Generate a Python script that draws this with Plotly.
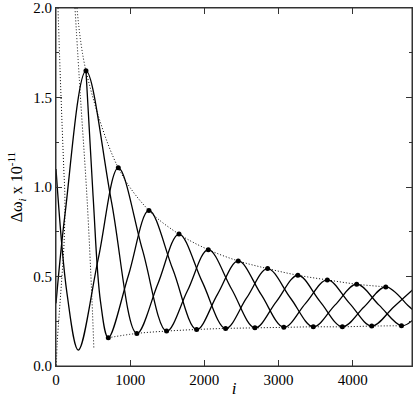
import plotly.graph_objects as go

# three oscillating curves (peaks, valleys and mid points)
curve_x_i = [0, 150, 301, 570, 840, 1165, 1491, 1772, 2053, 2367, 2682, 2971, 3261, 3561, 3861, 4153, 4446, 4753, 4820]
curve_x_v = [1.10, 0.40, 0.089, 0.60, 1.107, 0.65, 0.195, 0.42, 0.650, 0.43, 0.213, 0.36, 0.507, 0.36, 0.219, 0.33, 0.442, 0.335, 0.31]

curve_y_i = [0, 122, 404, 747, 1090, 1374, 1658, 1972, 2287, 2570, 2853, 3161, 3469, 3761, 4054, 4356, 4658, 4820]
curve_y_v = [0.35, 0.85, 1.649, 0.92, 0.182, 0.46, 0.737, 0.47, 0.210, 0.38, 0.544, 0.38, 0.219, 0.34, 0.457, 0.34, 0.225, 0.26]

curve_z_i = [404, 500, 600, 705, 979, 1253, 1575, 1896, 2177, 2457, 2765, 3072, 3365, 3658, 3958, 4257, 4553, 4820]
curve_z_v = [1.649, 0.95, 0.36, 0.158, 0.51, 0.869, 0.54, 0.204, 0.40, 0.587, 0.40, 0.216, 0.35, 0.481, 0.35, 0.223, 0.33, 0.43]

# dots on the maxima and minima
peak_i = [404, 840, 1253, 1658, 2053, 2457, 2853, 3261, 3658, 4054, 4446]
peak_v = [1.649, 1.107, 0.869, 0.737, 0.650, 0.587, 0.544, 0.507, 0.481, 0.457, 0.442]
valley_i = [705, 1090, 1491, 1896, 2287, 2682, 3072, 3469, 3861, 4257, 4658]
valley_v = [0.158, 0.182, 0.195, 0.204, 0.210, 0.213, 0.216, 0.219, 0.219, 0.223, 0.225]

# dotted guide curves
upper_i = [283, 404, 840, 1253, 1658, 2053, 2457, 2853, 3261, 3658, 4054, 4446]
upper_v = [2.0, 1.649, 1.107, 0.869, 0.737, 0.650, 0.587, 0.544, 0.507, 0.481, 0.457, 0.442]
left_i = [27, 55, 80, 105, 120, 110, 80, 45, 15, 5]
left_v = [2.0, 1.65, 1.37, 1.10, 0.94, 0.70, 0.50, 0.30, 0.12, 0.0]
steep_i = [256, 330, 418, 485, 510]
steep_v = [2.0, 1.5, 0.94, 0.37, 0.10]

x_ticks = [0, 1000, 2000, 3000, 4000]
y_ticks = [0, 0.5, 1.0, 1.5, 2.0]
y_labels = ["0.0", "0.5", "1.0", "1.5", "2.0"]

fig = go.Figure()

dotted = dict(color="black", width=1, dash="1px,2px")
solid = dict(color="black", width=1.3, shape="spline", smoothing=1.0)

fig.add_trace(go.Scatter(x=upper_i, y=upper_v, mode="lines", line=dict(dotted, shape="spline")))
fig.add_trace(go.Scatter(x=valley_i, y=valley_v, mode="lines", line=dict(dotted, shape="spline")))
fig.add_trace(go.Scatter(x=left_i, y=left_v, mode="lines", line=dict(dotted, shape="spline")))
fig.add_trace(go.Scatter(x=steep_i, y=steep_v, mode="lines", line=dict(dotted, shape="spline")))

for xs, ys in [(curve_x_i, curve_x_v), (curve_y_i, curve_y_v), (curve_z_i, curve_z_v)]:
    fig.add_trace(go.Scatter(x=xs, y=ys, mode="lines", line=solid))

fig.add_trace(go.Scatter(x=peak_i + valley_i, y=peak_v + valley_v, mode="markers",
                         marker=dict(color="black", size=5)))

axis_common = dict(
    showgrid=False, zeroline=False, showline=True, linecolor="#333", linewidth=1,
    mirror="ticks", ticks="inside", tickcolor="#333", ticklen=6, tickwidth=1,
    automargin=False,
    tickfont=dict(family="Liberation Serif", size=15, color="black"),
)

fig.update_xaxes(axis_common, range=[0, 4800], tickvals=x_ticks,
                 title=dict(text="<i>i</i>", font=dict(family="Liberation Serif", size=17, color="black"), standoff=0))
fig.update_yaxes(axis_common, range=[0, 2.0], tickvals=y_ticks, ticktext=y_labels,
                 minor=dict(tickvals=[0.25, 0.75, 1.25, 1.75], ticks="inside", ticklen=3, tickcolor="#333"),
                 title=dict(text="Δω<sub><i>i</i></sub> x 10<sup>-11</sup>",
                            font=dict(family="Liberation Serif", size=16, color="black"), standoff=6))

# frame round the plot area
fig.add_shape(type="rect", xref="paper", yref="paper", x0=0, y0=0, x1=1, y1=1,
              line=dict(color="#333", width=1), layer="above")

fig.update_layout(
    template="none",
    width=415, height=398, showlegend=False,
    margin=dict(l=56, r=3, t=8, b=32),
    plot_bgcolor="white", paper_bgcolor="white",
)

fig.write_html("out.html", config={"displayModeBar": False},
               post_script="document.body.style.margin='0';")
